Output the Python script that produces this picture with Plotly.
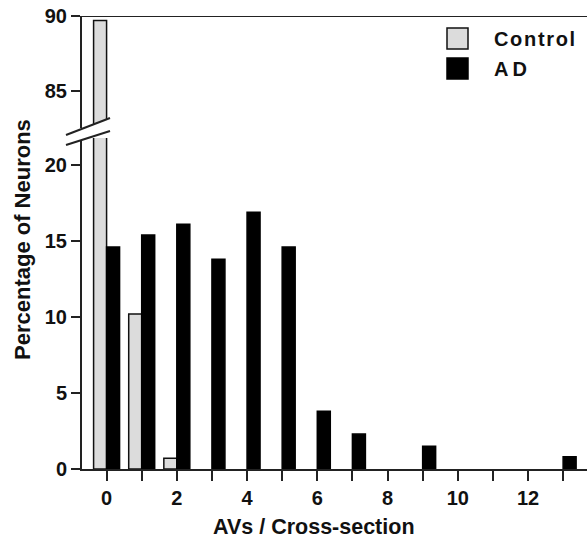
import plotly.graph_objects as go

# ---- data ----
categories = list(range(14))
control = [89.7, 10.2, 0.7, 0, 0, 0, 0, 0, 0, 0, 0, 0, 0, 0]
ad = [14.6, 15.4, 16.1, 13.8, 16.9, 14.6, 3.8, 2.3, 0, 1.5, 0, 0, 0, 0.8]
x_tick_vals = list(range(14))
x_tick_text = ["0", "", "2", "", "4", "", "6", "", "8", "", "10", "", "12", ""]
y_low_ticks = [0, 5, 10, 15, 20]
y_high_ticks = [85, 90]
series_names = ["Control", "AD"]

FONT = "Liberation Sans"
W, H = 587, 546
L, R, T, B = 82, 0, 16, 77
PW, PH = W - L - R, H - T - B


def px_x(p):
    return (p - L) / PW


def px_y(p):
    return (H - B - p) / PH


def nz(v):
    return [None if a == 0 else a for a in v]


ctrl_color = "#dcdcdc"
ad_color = "#000000"
bw = 0.37

fig = go.Figure()
for yax in ["y", "y2"]:
    fig.add_trace(go.Bar(x=categories, y=nz(control), name=series_names[0],
                         width=bw, offset=-bw, yaxis=yax,
                         marker=dict(color=ctrl_color, line=dict(color="#111", width=1.5)),
                         showlegend=False))
    fig.add_trace(go.Bar(x=categories, y=nz(ad), name=series_names[1],
                         width=bw, offset=0, yaxis=yax,
                         marker=dict(color=ad_color, line=dict(color="#000", width=1.5)),
                         showlegend=False))

tickfont = dict(family=FONT, size=20, color="#111", weight="bold")

fig.update_layout(
    width=W, height=H,
    margin=dict(l=L, r=R, t=T, b=B),
    paper_bgcolor="white", plot_bgcolor="white",
    barmode="overlay",
    showlegend=False,
    xaxis=dict(range=[-0.70, 13.68], tickvals=x_tick_vals, ticktext=x_tick_text,
               ticks="outside", ticklen=10, tickwidth=2, tickcolor="#222",
               showline=True, linecolor="#222", linewidth=2, automargin=False,
               showgrid=False, zeroline=False, tickfont=tickfont, anchor="y"),
    yaxis=dict(domain=[0, px_y(138)], range=[0, 21.78], tickvals=y_low_ticks,
               ticks="outside", ticklen=9, tickwidth=2, tickcolor="#222",
               showline=True, linecolor="#222", linewidth=2, automargin=False,
               showgrid=False, zeroline=False, tickfont=tickfont, anchor="x"),
    yaxis2=dict(domain=[px_y(128), 1], range=[82.53, 90], tickvals=y_high_ticks,
                ticks="outside", ticklen=9, tickwidth=2, tickcolor="#222",
                showline=True, linecolor="#222", linewidth=2, automargin=False,
                showgrid=False, zeroline=False, tickfont=tickfont, anchor="x"),
)

shapes = []
# top frame line at 90
shapes.append(dict(type="line", xref="paper", yref="y2", x0=0, x1=1, y0=90, y1=90,
                   line=dict(color="#222", width=2)))
# break gap (white) and slashes
shapes.append(dict(type="path", xref="paper", yref="paper",
                   path=f"M {px_x(66)},{px_y(135)} L {px_x(110)},{px_y(118)} L {px_x(110)},{px_y(131)} L {px_x(66)},{px_y(145)} Z",
                   fillcolor="white", line=dict(width=0)))
shapes.append(dict(type="line", xref="paper", yref="paper",
                   x0=px_x(66), y0=px_y(135), x1=px_x(110), y1=px_y(118),
                   line=dict(color="#222", width=2)))
shapes.append(dict(type="line", xref="paper", yref="paper",
                   x0=px_x(66), y0=px_y(145), x1=px_x(110), y1=px_y(131),
                   line=dict(color="#222", width=2)))
# legend swatches
shapes.append(dict(type="rect", xref="paper", yref="paper",
                   x0=px_x(447), x1=px_x(468), y0=px_y(49), y1=px_y(28),
                   fillcolor=ctrl_color, line=dict(color="#111", width=1.5)))
shapes.append(dict(type="rect", xref="paper", yref="paper",
                   x0=px_x(447), x1=px_x(468), y0=px_y(79), y1=px_y(58),
                   fillcolor=ad_color, line=dict(color="#000", width=1.5)))
fig.update_layout(shapes=shapes)

legfont = dict(family=FONT, size=20, color="#111", weight="bold")
ann = [
    dict(text="AVs / Cross-section", xref="paper", yref="paper",
         x=px_x(314), y=px_y(527), showarrow=False,
         font=dict(family=FONT, size=21.5, color="#111", weight="bold"),
         xanchor="center", yanchor="middle"),
    dict(text="Percentage of Neurons", xref="paper", yref="paper",
         x=px_x(22), y=px_y(240), showarrow=False,
         font=dict(family=FONT, size=22, color="#111", weight="bold"), textangle=-90,
         xanchor="center", yanchor="middle"),
    dict(text="\u200a".join(series_names[0]), xref="paper", yref="paper",
         x=px_x(492), y=px_y(39), showarrow=False, font=legfont,
         xanchor="left", yanchor="middle"),
    dict(text="\u2009".join(series_names[1]), xref="paper", yref="paper",
         x=px_x(492), y=px_y(69), showarrow=False, font=legfont,
         xanchor="left", yanchor="middle"),
]
fig.update_layout(annotations=ann)

fig.write_html("out.html", config={"displayModeBar": False},
               post_script="document.body.style.margin='0';")
